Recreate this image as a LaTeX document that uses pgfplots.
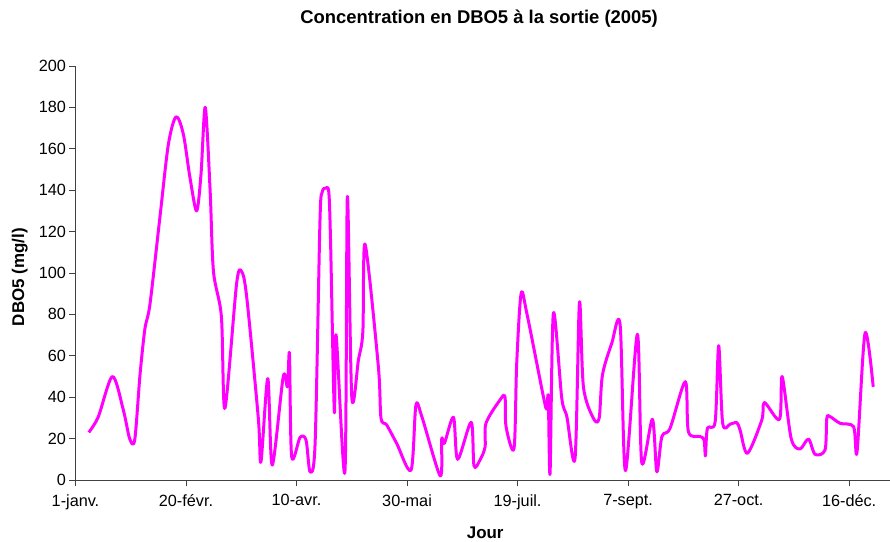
\documentclass[border=0pt]{standalone}
\usepackage{pgfplots}
\pgfplotsset{compat=1.18}
\usepackage{fontspec}
\setmainfont{Liberation Sans}

\definecolor{dbo}{rgb}{1,0,1}
\definecolor{axisgray}{rgb}{0.25,0.25,0.25}

\pgfplotstableread{
jour dbo
6 23
10.3 30.5
16.7 50
21.6 34
24.5 20
26.8 19.5
29.2 51
31.4 73
33.7 85
38.2 127
42 162
45.5 175.5
48.8 167
51.8 146
54.8 130
56.8 148
58.7 180
60.9 140
62.4 101
66 79
67.6 34.6
72.9 95
75.2 100.6
77.5 88
82.7 30
83.9 8.8
87 49
89 7.2
94 50
95.9 45
96.8 61
97.8 11.3
101.6 20.6
104.3 19.3
106.1 4
108.4 17.7
110.6 125
111.6 139
113.2 141
114.6 139
115.4 115
117.1 33
117.9 70
121.9 4
123 137
125 40
128 58
130 71.6
131 114
137 55
138.2 30
140.8 26.6
145.3 17.7
151.8 4.8
154 36
156.7 30.6
165 2
165.7 20
166.9 17.7
171 30.3
172.9 10
179 27.9
180.3 6.8
183 9.7
185.3 16
185.7 27.4
192 38.6
194.3 40.2
194.8 25.7
198.4 15.3
199.6 56
201.6 90
204.2 80.5
211.7 40.2
213.2 34.2
213.9 40.2
214.7 3.2
216.2 80.5
220 39.5
222.3 30.6
226 10.5
228 85.7
229.8 45
234.3 29.8
236.9 29.8
238.4 50.7
242.6 66
246.4 75
248.8 4.5
254.2 70.4
256.2 8.4
261 29.3
263 4
265.3 21
269 25
275.9 47.5
277.3 23.3
282.6 21
284.4 19.3
285 11.7
285.9 25
289.4 28.2
291 64.9
292.8 27.4
296.2 27
299.2 27.7
300.7 24
304 12.9
310.5 29
311.7 37.4
318.5 29.3
319.7 50
323.8 20
327.8 15
331.6 19.8
334.6 12.4
339.1 14.5
339.9 29.8
341.4 30.6
345.9 27.4
352 25.8
353.6 13.7
357.2 70.9
360.9 45
}\dboSortie

\begin{document}
\begin{tikzpicture}
% canvas around the plot area
\path[use as bounding box] (-75.5bp,-62bp) rectangle (814.5bp,480bp);
\begin{axis}[
  scale only axis,
  width=814.5bp, height=414bp,
  xmin=0, xmax=368.5, ymin=0, ymax=200,
  axis x line*=bottom, axis y line*=left,
  axis line style={axisgray, line width=0.9bp, -},
  tick align=outside,
  major tick length=6bp,
  tick style={axisgray, line width=0.9bp},
  xtick={0,50,...,350},
  xticklabels={1-janv.,20-févr.,10-avr.,30-mai,19-juil.,7-sept.,27-oct.,16-déc.},
  ytick={0,20,...,200},
  ticklabel style={font=\fontsize{16.3}{19}\selectfont},
  xticklabel style={yshift=-5bp},
  /pgf/number format/assume math mode=true,
  title={Concentration en DBO5 à la sortie (2005)},
  title style={font=\bfseries\fontsize{18.5}{22}\selectfont,
    at={(axis description cs:0.4955,1.1)}, anchor=center, yshift=0pt},
  xlabel={Jour},
  xlabel style={font=\bfseries\fontsize{17}{20}\selectfont,
    at={(axis description cs:0.503,-0.128)}, anchor=center},
  ylabel={DBO5 (mg/l)},
  ylabel style={font=\bfseries\fontsize{17}{20}\selectfont,
    at={(axis description cs:-0.0685,0.49)}, anchor=center, rotate=0},
]
\addplot[dbo, line width=3bp, smooth, tension=0.5, line join=round]
  table[x=jour, y=dbo] {\dboSortie};
\end{axis}
\end{tikzpicture}
\end{document}
